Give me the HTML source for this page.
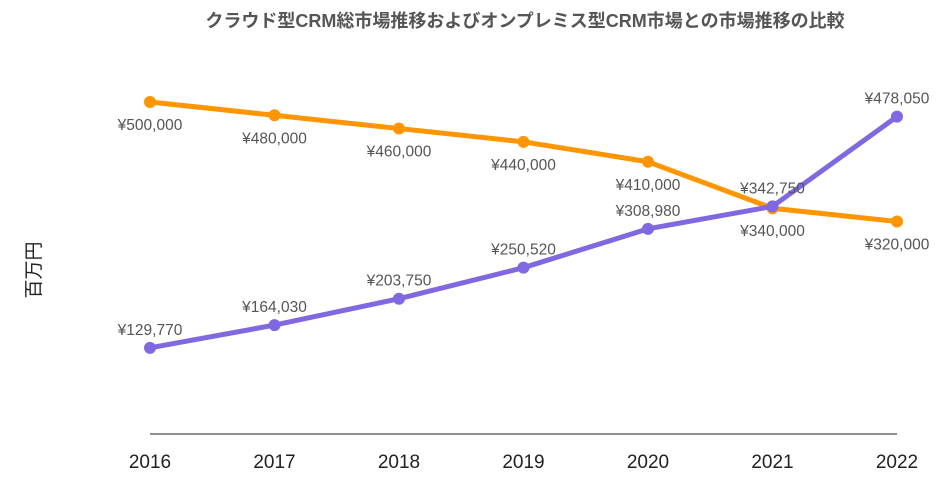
<!DOCTYPE html>
<html><head><meta charset="utf-8"><style>
body{margin:0;background:#fff;}
svg text{font-family:"Liberation Sans","Noto Sans CJK JP",sans-serif;}
</style></head><body>
<svg id="c" width="952" height="485">
<text x="525" y="27" text-anchor="middle" font-size="18" font-weight="bold" fill="#555">クラウド型CRM総市場推移およびオンプレミス型CRM市場との市場推移の比較</text>
<text transform="translate(40,270) rotate(-90)" text-anchor="middle" font-size="19" fill="#222">百万円</text>
<line x1="150" y1="434" x2="897" y2="434" stroke="#222" stroke-width="1"/>
<g id="g"></g>
</svg>
<script>
const categories=["2016","2017","2018","2019","2020","2021","2022"];
const onpremValues=[500000,480000,460000,440000,410000,340000,320000];
const cloudValues=[129770,164030,203750,250520,308980,342750,478050];
const ns="http://www.w3.org/2000/svg";
const g=document.getElementById('g');
const x=i=>150+i*(897-150)/(categories.length-1);
const y=v=>434-v*332/500000;
const fmt=v=>"¥"+v.toLocaleString("en-US");
categories.forEach((c,i)=>{
  const t=document.createElementNS(ns,'text');
  
  
  t.setAttribute('x',x(i));t.setAttribute('y',468);t.setAttribute('text-anchor','middle');
  t.setAttribute('font-size','19');t.setAttribute('fill','#222');t.textContent=c;g.appendChild(t);
});
function series(vals,color,name){
  const p=document.createElementNS(ns,'polyline');
  
  
  p.setAttribute('points',vals.map((v,i)=>x(i)+','+y(v)).join(' '));
  p.setAttribute('fill','none');p.setAttribute('stroke',color);p.setAttribute('stroke-width','5');
  g.appendChild(p);
  vals.forEach((v,i)=>{
    const c=document.createElementNS(ns,'circle');
    
    
    c.setAttribute('cx',x(i));c.setAttribute('cy',y(v));c.setAttribute('r','6');c.setAttribute('fill',color);
    g.appendChild(c);
  });
}
function labels(vals,name,dy){
  vals.forEach((v,i)=>{
    const t=document.createElementNS(ns,'text');
    
    
    t.setAttribute('x',x(i));t.setAttribute('y',y(v)+dy);t.setAttribute('text-anchor','middle');
    t.setAttribute('font-size','15.5');t.setAttribute('fill','#555');t.textContent=fmt(v);g.appendChild(t);
  });
}
series(onpremValues,'#ff9500','onprem');
series(cloudValues,'#8068e0','cloud');
labels(onpremValues,'onprem',28);
labels(cloudValues,'cloud',-13);
</script>
</body></html>
